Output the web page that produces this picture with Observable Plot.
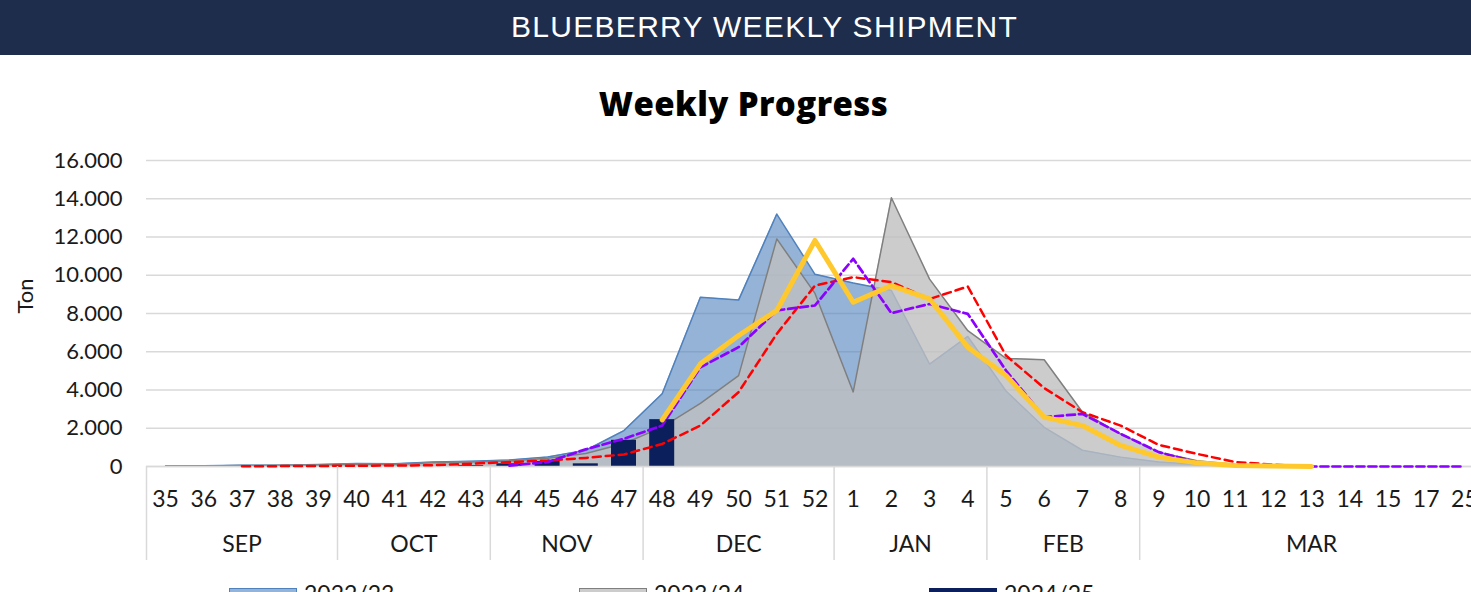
<!DOCTYPE html>
<html><head><meta charset="utf-8">
<script src="https://cdn.jsdelivr.net/npm/d3@7"></script>
<script src="https://cdn.jsdelivr.net/npm/@observablehq/plot@0.6"></script>
<style>
html,body{margin:0;padding:0;background:#fff;}
body{width:1471px;height:592px;overflow:hidden;position:relative;font-family:Lato,sans-serif;color:#1a1a1a;}
#hdr{position:absolute;left:0;top:0;width:1529px;height:55px;background:#1f2d4d;color:#fff;font-family:"Liberation Sans",Arial,sans-serif;font-size:30px;letter-spacing:1.3px;text-align:center;line-height:53px;}
#ttl{position:absolute;left:0;top:87px;width:1487px;text-align:center;font-family:"Open Sans",Lato,sans-serif;font-weight:800;font-size:33px;letter-spacing:0.4px;line-height:1;color:#000;}
#chart{position:absolute;left:0;top:135px;width:1500px;}
#chart svg{max-width:none !important;}
#legend{position:absolute;left:0;top:580px;width:1471px;height:40px;}
.sw{position:absolute;top:8px;width:66px;height:16px;}
.lt{position:absolute;top:0px;font-size:23px;line-height:1.2;color:#1a1a1a;}
</style>
</head><body>
<div id="hdr">BLUEBERRY WEEKLY SHIPMENT</div>
<div id="ttl">Weekly Progress</div>
<div id="chart"></div>
<div id="legend"></div>
<script>
// ---- data ----
const weeks = ["35","36","37","38","39","40","41","42","43","44","45","46","47","48","49","50","51","52",
  "1","2","3","4","5","6","7","8","9","10","11","12","13","14","15","17","25"];
const monthNames = ["SEP","OCT","NOV","DEC","JAN","FEB","MAR"];
const monthSpans = [5,4,4,5,4,4,9];
const yTicks = [0,2000,4000,6000,8000,10000,12000,14000,16000];

// 2022/23 (blue area)
const s2022 = [20,40,60,70,100,160,150,230,280,340,500,850,1880,3800,8850,8700,13200,10050,
  9600,9200,5350,6800,3950,2050,850,490,230,100,50,20,0,null,null,null,null];
// 2023/24 (grey area)
const s2023 = [20,30,50,60,80,130,110,190,240,290,430,680,1200,2060,3300,4750,11900,9050,
  3900,14050,9800,7100,5650,5580,2850,1700,750,300,110,40,0,null,null,null,null];
// 2024/25 (bars)
const s2024 = [null,null,null,null,null,null,null,null,50,140,260,140,1370,2450,null,null,null,null,
  null,null,null,null,null,null,null,null,null,null,null,null,null,null,null,null,null];
// yellow line
const sYellow = [null,null,null,null,null,null,null,null,null,null,null,null,null,2440,5370,6850,8160,11820,
  8590,9460,8760,6240,4760,2580,2140,1100,490,190,50,20,0,null,null,null,null];
// purple dashed
const sPurple = [null,null,null,null,null,null,null,null,null,50,230,900,1450,2140,5190,6240,8160,8420,
  10860,8020,8500,7980,5020,2580,2750,1710,750,230,40,0,0,0,0,0,0];
// red dashed
const sRed = [null,null,10,20,30,40,50,70,150,230,310,450,630,1180,2140,3890,6940,9460,
  9900,9640,8760,9410,5800,4100,2840,2140,1130,660,230,100,0,null,null,null,null];

const legendItems = [
  {label:"2022/23", fill:"rgba(79,129,189,0.6)", border:"#4f81bd"},
  {label:"2023/24", fill:"rgba(191,191,191,0.8)", border:"#7f7f7f"},
  {label:"2024/25", fill:"#0b1f5c", border:"#0b1f5c"}
];

// ---- derived ----
const idx = weeks.map((w,i)=>i);
const def = s => idx.filter(i => s[i] != null);
const bounds = [];
const centers = [];
{ let start = 0;
  monthSpans.forEach(n => { bounds.push(start - 0.5); centers.push(start + (n-1)/2); start += n; });
  bounds.push(start - 0.5); }

const fmt = d => d3.format(",")(d).replace(/,/g, ".");
const marginTop = 25, marginBottom = 100, height = 431;
const frameH = height - marginTop - marginBottom;

const chart = Plot.plot({
  width: 1500, height, marginLeft: 146, marginRight: 17, marginTop, marginBottom,
  style: {fontFamily: "Lato, sans-serif", fontSize: "22px", color: "#1a1a1a", background: "transparent", maxWidth: "none"},
  x: {domain: [-0.5, weeks.length - 0.5], axis: null},
  y: {domain: [0, 16000], ticks: 8, tickFormat: fmt, tickSize: 0, tickPadding: 24, label: null},
  marks: [
    Plot.ruleY(yTicks, {stroke: "#d9d9d9", strokeWidth: 1.5}),
    Plot.areaY(def(s2022), {x: i => i, y: i => s2022[i], fill: "#4f81bd", fillOpacity: 0.6}),
    Plot.lineY(def(s2022), {x: i => i, y: i => s2022[i], stroke: "#4f81bd", strokeWidth: 1.5}),
    Plot.areaY(def(s2023), {x: i => i, y: i => s2023[i], fill: "#bfbfbf", fillOpacity: 0.8}),
    Plot.lineY(def(s2023), {x: i => i, y: i => s2023[i], stroke: "#7f7f7f", strokeWidth: 1.5}),
    Plot.rectY(def(s2024), {x1: i => i - 0.5, x2: i => i + 0.5, y: i => s2024[i], fill: "#0b1f5c", insetLeft: 6.6, insetRight: 6.6}),
    Plot.ruleY([0], {stroke: "#d9d9d9", strokeWidth: 1.5}),
    Plot.lineY(def(sRed), {x: i => i, y: i => sRed[i], stroke: "#ff0000", strokeWidth: 2.5, strokeDasharray: "8,5"}),
    Plot.lineY(def(sPurple), {x: i => i, y: i => sPurple[i], stroke: "#8b00ff", strokeWidth: 2.7, strokeDasharray: "8,4"}),
    Plot.lineY(def(sYellow), {x: i => i, y: i => sYellow[i], stroke: "#ffc82c", strokeWidth: 5, strokeLinejoin: "round"}),
    Plot.ruleX(bounds, {x: d => d, stroke: "#d9d9d9", strokeWidth: 1.5, insetTop: frameH, insetBottom: -94}),
    Plot.text(weeks, {x: (d, i) => i, text: d => d, frameAnchor: "bottom", dy: 40, fontSize: 23, fill: "#1a1a1a"}),
    Plot.text(monthNames, {x: (d, i) => centers[i], text: d => d, frameAnchor: "bottom", dy: 85, fontSize: 23, fill: "#1a1a1a"}),
    Plot.text(["Ton"], {text: d => d, frameAnchor: "left", dx: -121, rotate: -90, fontSize: 22, fill: "#1a1a1a"})
  ]
});
chart.style.maxWidth = "none";
document.getElementById("chart").appendChild(chart);

const lg = document.getElementById("legend");
legendItems.forEach((it, k) => {
  const left = 229 + k * 350;
  const sw = document.createElement("div");
  sw.className = "sw";
  sw.style.left = left + "px";
  sw.style.background = it.fill;
  sw.style.border = "1.5px solid " + it.border;
  lg.appendChild(sw);
  const t = document.createElement("div");
  t.className = "lt";
  t.style.left = (left + 75) + "px";
  t.textContent = it.label;
  lg.appendChild(t);
});
</script>
</body></html>
